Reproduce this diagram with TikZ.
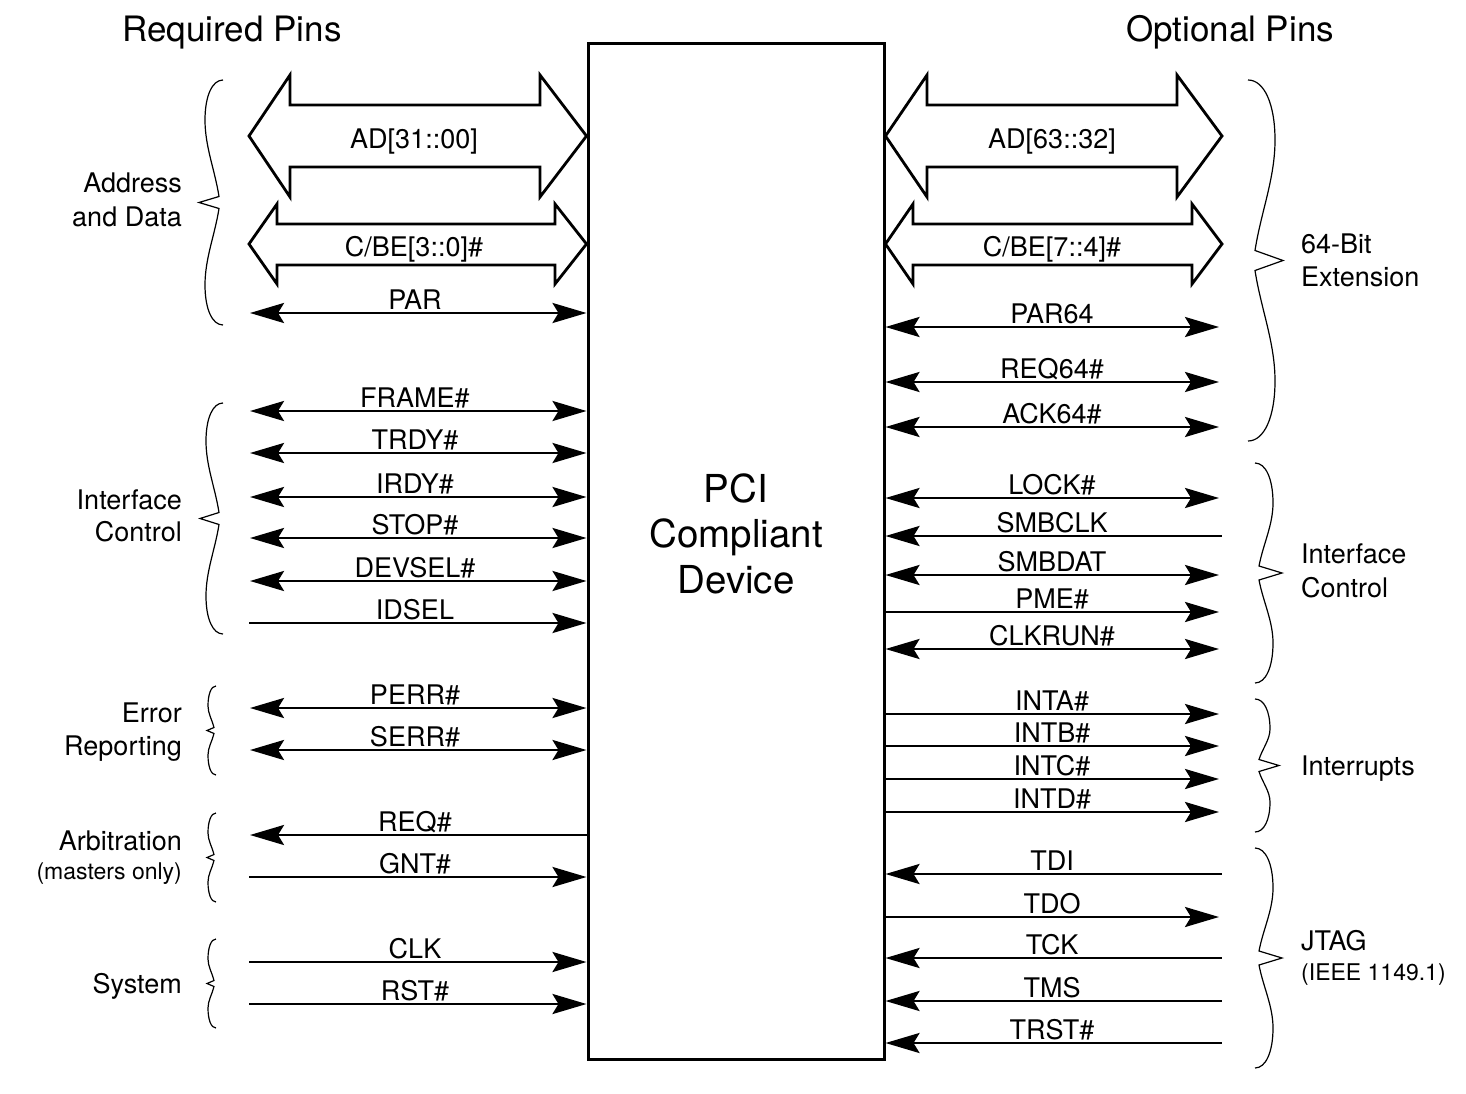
\documentclass[tikz,border=0pt]{standalone}
\usepackage{fontspec}
\setmainfont{TeX Gyre Heros}
\usetikzlibrary{arrows.meta}
\newcommand\pcibrace[9]{% xe y1 y2 dir b n a c g
  \pgfmathsetmacro\pcbm{(#2+#3)/2}%
  \draw[bracestyle] (#1,#2) .. controls ({#1+(#4)*0.6*#5},#2) and ({#1+(#4)*#5},{#2+0.4*#8}) .. ({#1+(#4)*#5},{#2+#8})
   .. controls ({#1+(#4)*#5},{#2+#8+0.35*(\pcbm-#9-#2-#8)}) and ({#1+(#4)*(#6+0.3*(#5-#6))},{\pcbm-#9-0.35*(\pcbm-#9-#2-#8)}) .. ({#1+(#4)*#6},{\pcbm-#9})
   -- ({#1+(#4)*#7},\pcbm) -- ({#1+(#4)*#6},{\pcbm+#9})
   .. controls ({#1+(#4)*(#6+0.3*(#5-#6))},{\pcbm+#9+0.35*(#3-#8-\pcbm-#9)}) and ({#1+(#4)*#5},{#3-#8-0.35*(#3-#8-\pcbm-#9)}) .. ({#1+(#4)*#5},{#3-#8})
   .. controls ({#1+(#4)*#5},{#3-0.4*#8}) and ({#1+(#4)*0.6*#5},#3) .. (#1,#3);
}
\tikzset{
  >={Stealth[length=34pt,width=20pt,inset=6pt]},
  sig/.style={line width=2.8pt},
  sigboth/.style={sig,<->},
  sigend/.style={sig,->},
  sigstart/.style={sig,<-},
  bus/.style={line width=2.8pt, line join=miter, miter limit=10},
  bracestyle/.style={line width=1.2pt, line join=miter},
  lbl/.style={font=\fontsize{27}{32}\selectfont, anchor=base, inner sep=0pt},
  grpl/.style={font=\fontsize{27}{32}\selectfont, anchor=base east, inner sep=0pt},
  grpr/.style={font=\fontsize{27}{32}\selectfont, anchor=base west, inner sep=0pt},
  smalll/.style={font=\fontsize{23}{28}\selectfont, anchor=base east, inner sep=0pt},
  smallr/.style={font=\fontsize{23}{28}\selectfont, anchor=base west, inner sep=0pt},
  ttl/.style={font=\fontsize{35}{40}\selectfont, anchor=base, inner sep=0pt},
}
\begin{document}
\begin{tikzpicture}[x=1pt,y=-1pt]
\useasboundingbox[fill=white] (0,0) rectangle (1466,1094);

% device box
\node[draw, line width=3pt, minimum width=296pt, minimum height=1015pt, inner sep=0pt] (dev) at (736,551.5) {};
\node[font=\fontsize{38.5}{45.5}\selectfont, align=center, anchor=base, inner sep=0pt] (devtxt) at (736,593) {PCI\\Compliant\\Device};

% titles
\node[ttl] (treq) at (232,42) {Required Pins};
\node[ttl] (topt) at (1230,42) {Optional Pins};

% bus arrows
\draw[bus] (249,136) -- (290,75) -- (290,105) -- (540,105) -- (540,75) -- (586.5,136) -- (540,197) -- (540,167) -- (290,167) -- (290,197) -- cycle;
\node[lbl] (ad1) at (414,149) {AD[31::00]};
\draw[bus] (249,244) -- (277,204) -- (277,224) -- (555,224) -- (555,204) -- (586.5,244) -- (555,284) -- (555,265) -- (277,265) -- (277,284) -- cycle;
\node[lbl] (cbe1) at (414,256) {C/BE[3::0]\#};
\draw[bus] (885.5,136) -- (927,75) -- (927,105) -- (1177,105) -- (1177,75) -- (1222,136) -- (1177,197) -- (1177,167) -- (927,167) -- (927,197) -- cycle;
\node[lbl] (ad2) at (1052,149) {AD[63::32]};
\draw[bus] (885.5,244) -- (913,204) -- (913,224) -- (1192,224) -- (1192,204) -- (1222,244) -- (1192,284) -- (1192,265) -- (913,265) -- (913,284) -- cycle;
\node[lbl] (cbe2) at (1052,256) {C/BE[7::4]\#};

% left signals
\foreach \y/\t/\s/\xx [count=\i] in {
  313/PAR/sigboth/250, 411/FRAME\#/sigboth/250, 453/TRDY\#/sigboth/250,
  497/IRDY\#/sigboth/250, 538/STOP\#/sigboth/250, 581/DEVSEL\#/sigboth/250,
  623/IDSEL/sigend/249, 708/PERR\#/sigboth/250, 750/SERR\#/sigboth/250,
  835/REQ\#/sigstart/250, 877/GNT\#/sigend/249, 962/CLK/sigend/249,
  1004/RST\#/sigend/249}{
  \coordinate (L\i) at (\xx,\y);
  \draw[\s] (L\i) -- (L\i -| dev.west);
  \node[lbl] (LT\i) at (415,{\y-4}) {\t};
}

% right signals
\foreach \y/\t/\s/\xx [count=\i] in {
  327/PAR64/sigboth/1219, 382/REQ64\#/sigboth/1219, 427/ACK64\#/sigboth/1219,
  498/LOCK\#/sigboth/1219, 536/SMBCLK/sigstart/1222, 575/SMBDAT/sigboth/1219,
  612/PME\#/sigend/1219, 649/CLKRUN\#/sigboth/1219,
  714/INTA\#/sigend/1219, 746/INTB\#/sigend/1219, 779/INTC\#/sigend/1219,
  812/INTD\#/sigend/1219, 874/TDI/sigstart/1222, 917/TDO/sigend/1219,
  958/TCK/sigstart/1222, 1001/TMS/sigstart/1222, 1043/TRST\#/sigstart/1222}{
  \coordinate (R\i) at (\xx,\y);
  \draw[\s] (R\i -| dev.east) -- (R\i);
  \node[lbl] (RT\i) at (1052,{\y-4}) {\t};
}

% left braces and group labels
\pcibrace{223}{80}{325}{-1}{18}{4}{24}{40}{6}
\pcibrace{223}{403}{634}{-1}{17}{4}{23}{38}{6}
\pcibrace{216}{686}{775}{-1}{8}{2}{9}{20}{3}
\pcibrace{216}{813}{902}{-1}{8}{2}{9}{20}{3}
\pcibrace{216}{939}{1028}{-1}{8}{2}{9}{20}{3}
\node[grpl] (gad1) at (182,193) {Address};
\node[grpl] (gad2) at (182,226) {and Data};
\node[grpl] (gic1) at (182,509) {Interface};
\node[grpl] (gic2) at (182,541) {Control};
\node[grpl] (ger1) at (182,722) {Error};
\node[grpl] (ger2) at (182,755) {Reporting};
\node[grpl] (gar1) at (182,850) {Arbitration};
\node[smalll] (gar2) at (182,879) {(masters only)};
\node[grpl] (gsy1) at (182,993) {System};

% right braces and group labels
\pcibrace{1248}{80}{441}{1}{27}{7}{35}{60}{10}
\pcibrace{1255}{463}{683}{1}{18}{4}{27}{40}{7}
\pcibrace{1255}{699}{832}{1}{15}{4}{24}{30}{6}
\pcibrace{1255}{848}{1068}{1}{18}{4}{27}{40}{7}
\node[grpr] (g641) at (1301,253) {64-Bit};
\node[grpr] (g642) at (1301,286) {Extension};
\node[grpr] (gric1) at (1301,563) {Interface};
\node[grpr] (gric2) at (1301,597) {Control};
\node[grpr] (gint) at (1301,775) {Interrupts};
\node[grpr] (gjt1) at (1301,950) {JTAG};
\node[smallr] (gjt2) at (1301,980) {(IEEE 1149.1)};
\end{tikzpicture}
\end{document}
